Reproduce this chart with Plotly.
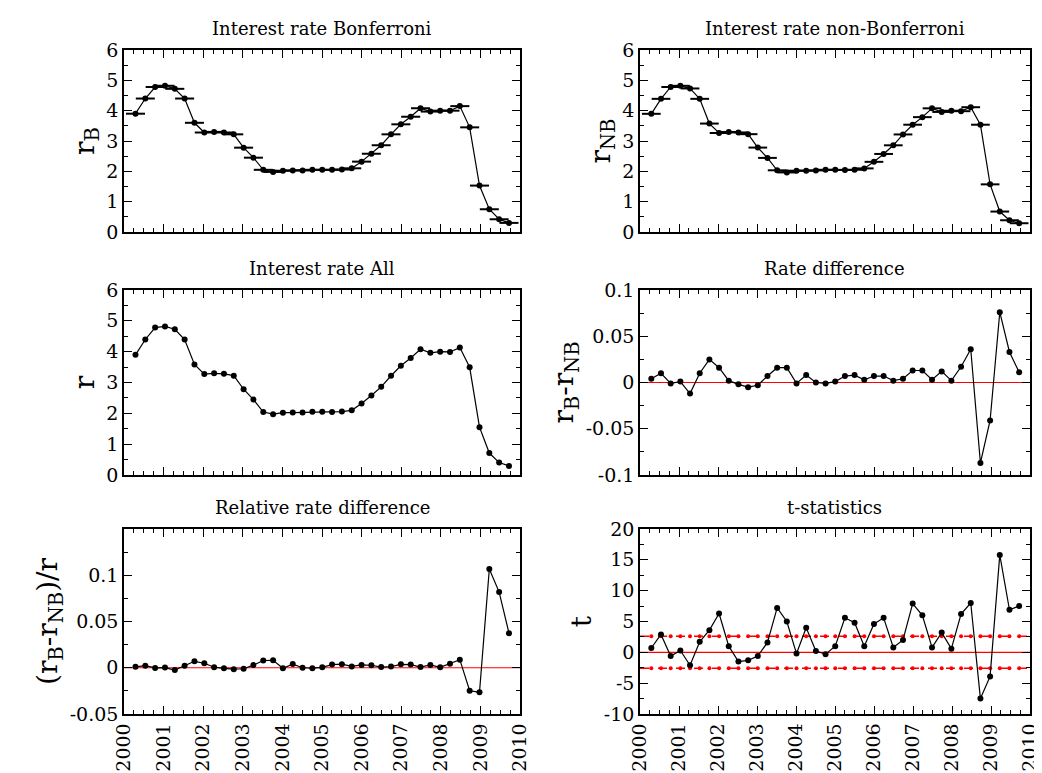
import plotly.graph_objects as go
import numpy as np

n = 39
years = [2000.29 + 0.2482 * i for i in range(n)]
rate_B = [3.9,4.4,4.78,4.82,4.72,4.4,3.6,3.28,3.3,3.28,3.22,2.78,2.45,2.05,1.98,2.02,2.03,2.03,2.05,2.05,
          2.05,2.06,2.1,2.32,2.58,2.86,3.22,3.55,3.8,4.08,3.97,4.0,4.0,4.15,3.45,1.53,0.75,0.42,0.3]
rate_diff = [0.004,0.010,-0.001,0.001,-0.012,0.010,0.025,0.016,0.002,-0.002,-0.005,-0.003,0.007,0.016,0.016,
             -0.001,0.008,0.000,-0.001,0.001,0.007,0.008,0.003,0.007,0.007,0.002,0.004,0.013,0.013,0.003,
             0.012,0.002,0.017,0.036,-0.087,-0.041,0.076,0.033,0.011]
t_stat = [0.7,2.9,-0.6,0.3,-2.1,1.7,3.6,6.3,1.0,-1.5,-1.3,-0.6,1.6,7.2,5.0,-0.2,4.0,0.2,-0.3,1.0,
          5.6,4.8,1.0,4.6,5.6,0.8,2.0,7.9,6.0,0.8,3.2,0.6,6.2,8.0,-7.5,-3.9,15.8,6.9,7.5]
t_crit = 2.6
rate_NB = [b - d for b, d in zip(rate_B, rate_diff)]
rate_all = [b - d / 2 for b, d in zip(rate_B, rate_diff)]
rel_diff = [d / r for d, r in zip(rate_diff, rate_all)]

F = "DejaVu Serif"
W, H = 1042, 773
def px_x(a, b): return [a / W, b / W]
def px_y(top, bot): return [1 - bot / H, 1 - top / H]
# target pixel boxes, corrected for the 8px page offset
xd = {1: px_x(124 - 8, 520 - 8), 2: px_x(640 - 8, 1030 - 8)}
yd = {1: px_y(50 - 8, 232 - 8), 2: px_y(290 - 8, 475 - 8), 3: px_y(529 - 8, 714 - 8)}
panels = [
    (1, 1, rate_B, "Interest rate Bonferroni", "r<sub>B</sub>", [0, 6], 1, 0.5, True),
    (1, 2, rate_NB, "Interest rate non-Bonferroni", "r<sub>NB</sub>", [0, 6], 1, 0.5, True),
    (2, 1, rate_all, "Interest rate All", "r", [0, 6], 1, 0.5, False),
    (2, 2, rate_diff, "Rate difference", "r<sub>B</sub>-r<sub>NB</sub>", [-0.1, 0.1], 0.05, 0.025, False),
    (3, 1, rel_diff, "Relative rate difference", "(r<sub>B</sub>-r<sub>NB</sub>)/r", [-0.05, 0.15], 0.05, 0.025, False),
    (3, 2, t_stat, "t-statistics", "t", [-10, 20], 5, 2.5, False),
]
fig = go.Figure()
ann = []
for k, (row, col, ys, title, ylab, yr, dt, mdt, err) in enumerate(panels):
    idx = k + 1
    xa = "x" if idx == 1 else f"x{idx}"
    ya = "y" if idx == 1 else f"y{idx}"
    if idx >= 4:
        fig.add_trace(go.Scatter(x=[2000, 2010], y=[0, 0], mode="lines", line=dict(color="red", width=1.2),
                                 xaxis=xa, yaxis=ya, showlegend=False, hoverinfo="skip"))
    if idx == 6:
        for s in (1, -1):
            fig.add_trace(go.Scatter(x=[2000, 2010], y=[s * t_crit] * 2, mode="lines",
                                     line=dict(color="red", width=1.5, dash="dash"),
                                     xaxis=xa, yaxis=ya, showlegend=False))
            fig.add_trace(go.Scatter(x=years, y=[s * t_crit] * n, mode="markers",
                                     marker=dict(color="red", size=4),
                                     xaxis=xa, yaxis=ya, showlegend=False))
    tr = dict(x=years, y=ys, mode="lines+markers", line=dict(color="black", width=1.2),
              marker=dict(color="black", size=6), xaxis=xa, yaxis=ya, showlegend=False)
    if err:
        tr["error_x"] = dict(type="constant", value=0.24, width=0, thickness=2, color="black")
    fig.add_trace(go.Scatter(**tr))
    common = dict(showline=True, linecolor="black", linewidth=1.5, mirror="allticks", ticks="inside",
                  ticklen=8, tickcolor="black", showgrid=False, zeroline=False, automargin=False,
                  tickfont=dict(family=F, size=19, color="black"))
    minor = dict(ticks="inside", ticklen=4, tickcolor="black", showgrid=False)
    fig.layout[xa.replace("x", "xaxis")] = dict(
        domain=xd[col], range=[2000, 2010], dtick=1, tick0=2000, anchor=ya,
        showticklabels=(row == 3), tickangle=-90, minor=dict(dtick=0.25, **minor), **common)
    vals = [v for v in np.arange(yr[0], yr[1] + 1e-9, dt) if not (idx == 5 and v > 0.12)]
    fig.layout[ya.replace("y", "yaxis")] = dict(
        domain=yd[row], range=yr, anchor=xa,
        minor=dict(dtick=mdt, tick0=0, **minor),
        tickvals=vals, ticktext=["%g" % round(v, 3) for v in vals],
        title=dict(text=ylab, font=dict(family=F, size=28, color="black"), standoff=4), **common)
    ann.append(dict(text=title, x=sum(xd[col]) / 2, y=yd[row][1] + 0.012, xref="paper", yref="paper",
                    xanchor="center", yanchor="bottom", showarrow=False,
                    font=dict(family=F, size=18, color="black")))
fig.update_layout(width=W, height=H, margin=dict(l=0, r=0, t=0, b=0),
                  plot_bgcolor="white", paper_bgcolor="white", annotations=ann)
fig.write_html("out.html")
